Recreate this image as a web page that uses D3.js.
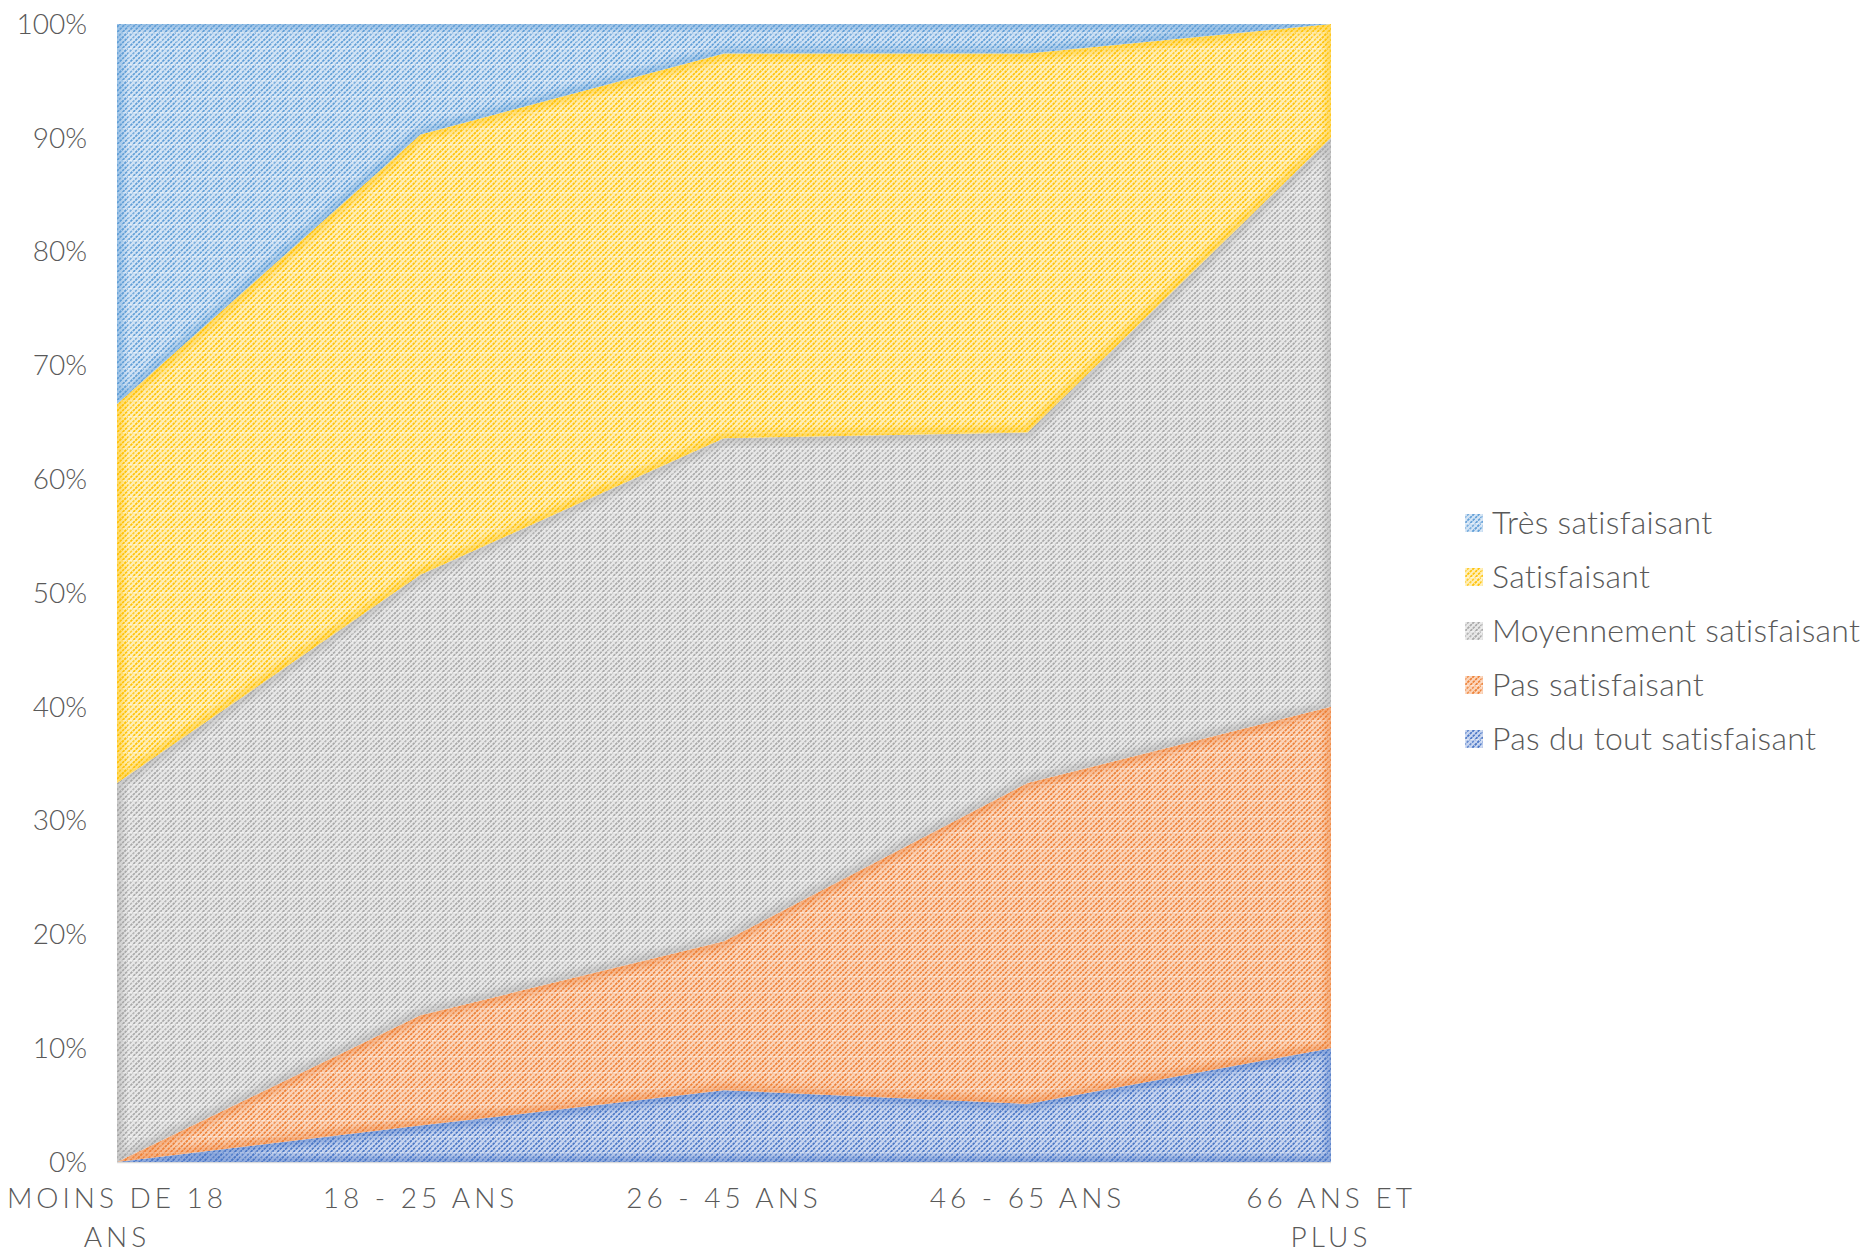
<!DOCTYPE html>
<html>
<head>
<meta charset="utf-8">
<script src="https://cdn.jsdelivr.net/npm/d3@7"></script>
<style>
  body { margin: 0; background: #fff; }
  text { font-family: "Lato", "Open Sans", sans-serif; font-weight: 300; fill: #595959; }
</style>
</head>
<body>
<script>
var categories = ["MOINS DE 18 ANS", "18 - 25 ANS", "26 - 45 ANS", "46 - 65 ANS", "66 ANS ET PLUS"];
var xLabelLines = [["MOINS DE 18", "ANS"], ["18 - 25 ANS"], ["26 - 45 ANS"], ["46 - 65 ANS"], ["66 ANS ET", "PLUS"]];

// stacked from bottom to top, in %
var seriesNames = ["Pas du tout satisfaisant", "Pas satisfaisant", "Moyennement satisfaisant", "Satisfaisant", "Très satisfaisant"];
var pasDuTout = [0, 3.2, 6.3, 5.1, 10];
var pas = [0, 9.7, 13.1, 28.2, 30];
var moyen = [33.3, 38.7, 44.2, 30.8, 50];
var satisf = [33.3, 38.7, 33.8, 33.3, 10];
var tres = [33.4, 9.7, 2.6, 2.6, 0];
var yTicks = [0, 10, 20, 30, 40, 50, 60, 70, 80, 90, 100];

var mainColors = ["#4472C4", "#ED7D31", "#A5A5A5", "#FFC000", "#5B9BD5"];
var lightColors = ["#c9d6f0", "#fbd5bb", "#e8e8e8", "#ffefb8", "#d3e4f5"];

var w = 1874, h = 1253;
var mLeft = 117, mRight = 1331, mTop = 24, mBottom = 1162;

var table = categories.map(function (c, i) {
    return {cat: c, s0: pasDuTout[i], s1: pas[i], s2: moyen[i], s3: satisf[i], s4: tres[i]};
});
var keys = ["s0", "s1", "s2", "s3", "s4"];
var stacked = d3.stack().keys(keys)(table);

var x = d3.scalePoint().domain(categories).range([mLeft, mRight]);
var y = d3.scaleLinear().domain([0, 100]).range([mBottom, mTop]);

var svg = d3.select("body").append("svg").attr("width", w).attr("height", h);
var defs = svg.append("defs");

defs.append("filter").attr("id", "soft")
    .attr("x", "-10%").attr("y", "-10%").attr("width", "120%").attr("height", "120%")
    .append("feGaussianBlur").attr("stdDeviation", 3);

// hatched texture per series
keys.forEach(function (k, i) {
    var p = defs.append("pattern").attr("id", "pat" + i)
        .attr("patternUnits", "userSpaceOnUse")
        .attr("width", 16).attr("height", 16);
    p.append("rect").attr("width", 16).attr("height", 16).attr("fill", lightColors[i]);
    for (var j = 0; j <= 6; j++) {
        var c = j * 16 / 3;
        p.append("line")
            .attr("x1", c - 16).attr("y1", 16)
            .attr("x2", c).attr("y2", 0)
            .attr("stroke", mainColors[i]).attr("stroke-width", 1.6)
            .attr("stroke-dasharray", "2.5,1")
            .attr("opacity", 0.75);
        p.append("line")
            .attr("x1", c).attr("y1", 16)
            .attr("x2", c + 16).attr("y2", 0)
            .attr("stroke", mainColors[i]).attr("stroke-width", 1.6)
            .attr("stroke-dasharray", "2.5,1")
            .attr("opacity", 0.75);
    }
    p.append("line").attr("x1", 0).attr("y1", 0.5).attr("x2", 16).attr("y2", 0.5)
        .attr("stroke", "#fff").attr("stroke-width", 1).attr("opacity", 0.4);
    p.append("line").attr("x1", 0.5).attr("y1", 0).attr("x2", 0.5).attr("y2", 16)
        .attr("stroke", "#fff").attr("stroke-width", 1).attr("opacity", 0.2);
});

var area = d3.area()
    .x(function (d) { return x(d.data.cat); })
    .y0(function (d) { return y(d[0]); })
    .y1(function (d) { return y(d[1]); });

// axis line
svg.append("line")
    .attr("x1", mLeft).attr("x2", mRight)
    .attr("y1", mBottom + 0.5).attr("y2", mBottom + 0.5)
    .attr("stroke", "#d9d9d9").attr("stroke-width", 1.5);

stacked.forEach(function (layer, i) {
    var d = area(layer);
    defs.append("clipPath").attr("id", "clip" + i).append("path").attr("d", d);
    var g = svg.append("g").attr("clip-path", "url(#clip" + i + ")");
    g.append("path").attr("d", d).attr("fill", "url(#pat" + i + ")");
    // soft inner glow along the edges
    g.append("path").attr("d", d)
        .attr("fill", "none")
        .attr("stroke", mainColors[i])
        .attr("stroke-width", 12)
        .attr("opacity", 0.45)
        .attr("filter", "url(#soft)");
});

// y ticks
svg.append("g").selectAll("text")
    .data(yTicks)
    .enter()
    .append("text")
    .attr("x", 87)
    .attr("y", function (d) { return y(d); })
    .attr("dy", "0.35em")
    .attr("text-anchor", "end")
    .attr("font-size", 28)
    .text(function (d) { return d + "%"; });

// x labels
var xl = svg.append("g").selectAll("text")
    .data(categories)
    .enter()
    .append("text")
    .attr("text-anchor", "middle")
    .attr("font-size", 28)
    .attr("letter-spacing", "4px")
    .attr("transform", function (d) { return "translate(" + x(d) + ",1208)"; });
xl.each(function (d, i) {
    var t = d3.select(this);
    xLabelLines[i].forEach(function (line, j) {
        t.append("tspan").attr("x", 0).attr("y", j * 39).text(line);
    });
});

// legend, top entry first
var legendOrder = [4, 3, 2, 1, 0];
var lg = svg.append("g").selectAll("g")
    .data(legendOrder)
    .enter()
    .append("g")
    .attr("transform", function (d, i) { return "translate(1465," + (523 + i * 54) + ")"; });
lg.append("rect")
    .attr("x", 0).attr("y", -9)
    .attr("width", 18).attr("height", 18)
    .attr("fill", function (d) { return "url(#pat" + d + ")"; });
lg.append("text")
    .attr("x", 27).attr("y", 0)
    .attr("dy", "0.35em")
    .attr("font-size", 32)
    .attr("letter-spacing", "0.3px")
    .text(function (d) { return seriesNames[d]; });
</script>
</body>
</html>
